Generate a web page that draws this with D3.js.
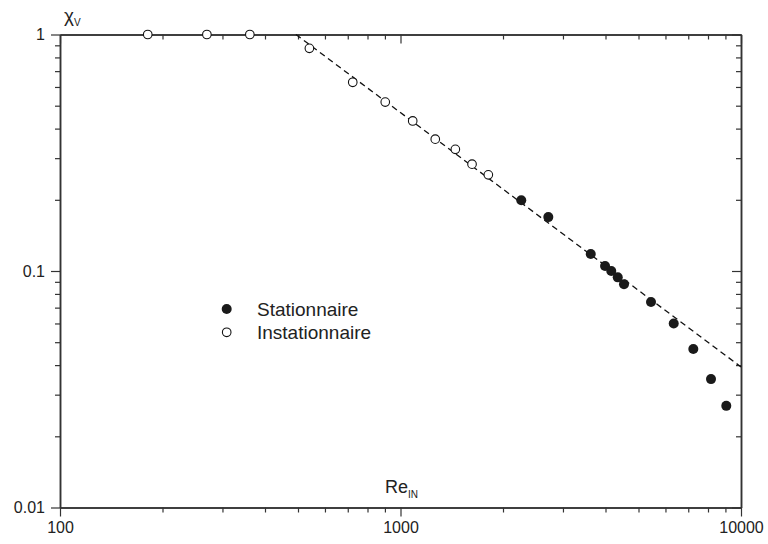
<!DOCTYPE html>
<html><head><meta charset="utf-8">
<script src="https://cdn.jsdelivr.net/npm/d3@7"></script>
<style>
body{margin:0;background:#fff;}
text{font-family:"Liberation Sans",Arial,Helvetica,sans-serif;fill:#222;}
</style></head>
<body><svg id="c" width="768" height="544"></svg>
<script>
// Data
const instX = [181, 270, 361, 540, 724, 902, 1086, 1265, 1449, 1622, 1811];
const instY = [1, 1, 1, 0.874, 0.628, 0.518, 0.431, 0.361, 0.327, 0.283, 0.255];
const statX = [2263, 2717, 3620, 3988, 4159, 4345, 4533, 5441, 6345, 7243, 8165, 9053];
const statY = [0.199, 0.169, 0.118, 0.105, 0.100, 0.094, 0.088, 0.074, 0.060, 0.0468, 0.0349, 0.0269];
const fitX = [493, 10000];
const fitY = [1, 0.0393];
const xTicks = [100, 1000, 10000];
const xTickLabels = ["100", "1000", "10000"];
const yTicks = [0.01, 0.1, 1];
const yTickLabels = ["0.01", "0.1", "1"];
const legendLabels = ["Stationnaire", "Instationnaire"];

const svg = d3.select("#c");
const L = 60, R = 741, T = 34.5, B = 507.5;
const x = d3.scaleLog().domain([100, 10000]).range([L, R]);
const y = d3.scaleLog().domain([0.01, 1]).range([B, T]);

const xMinor = [], yMinor = [];
[100, 1000].forEach(d => { for (let k = 2; k <= 9; k++) xMinor.push(d * k); });
[0.01, 0.1].forEach(d => { for (let k = 2; k <= 9; k++) yMinor.push(d * k); });

const axColor = "#333";
function style(g) {
  g.select(".domain").attr("stroke", axColor).attr("stroke-width", 1.5);
  g.selectAll(".tick line").attr("stroke", axColor).attr("stroke-width", 1.2);
  g.selectAll(".tick text").attr("fill", "#222").style("font-size", "16px")
   .style("font-family", '"Liberation Sans",Arial,sans-serif');
}
// bottom
svg.append("g").attr("transform", `translate(0,${B})`)
  .call(d3.axisBottom(x).tickValues(xMinor).tickSize(5).tickSizeOuter(0).tickFormat("")).call(style);
svg.append("g").attr("transform", `translate(0,${B})`)
  .call(d3.axisBottom(x).tickValues(xTicks).tickSize(9).tickSizeOuter(0).tickPadding(5)
    .tickFormat((d, i) => xTickLabels[i])).call(style);
// top
svg.append("g").attr("transform", `translate(0,${T})`)
  .call(d3.axisTop(x).tickValues(xMinor).tickSize(-5).tickSizeOuter(0).tickFormat("")).call(style);
svg.append("g").attr("transform", `translate(0,${T})`)
  .call(d3.axisTop(x).tickValues(xTicks).tickSize(-9).tickSizeOuter(0).tickFormat("")).call(style);
// left
svg.append("g").attr("transform", `translate(${L},0)`)
  .call(d3.axisLeft(y).tickValues(yMinor).tickSize(5).tickSizeOuter(0).tickFormat("")).call(style);
svg.append("g").attr("transform", `translate(${L},0)`)
  .call(d3.axisLeft(y).tickValues(yTicks).tickSize(9).tickSizeOuter(0).tickPadding(6)
    .tickFormat((d, i) => yTickLabels[i])).call(style);
// right
svg.append("g").attr("transform", `translate(${R},0)`)
  .call(d3.axisRight(y).tickValues(yMinor).tickSize(-5).tickSizeOuter(0).tickFormat("")).call(style);
svg.append("g").attr("transform", `translate(${R},0)`)
  .call(d3.axisRight(y).tickValues(yTicks).tickSize(-9).tickSizeOuter(0).tickFormat("")).call(style);

// fit line
svg.append("path")
  .datum(fitX.map((d, i) => [d, fitY[i]]))
  .attr("d", d3.line().x(d => x(d[0])).y(d => y(d[1])))
  .attr("fill", "none").attr("stroke", "#111").attr("stroke-width", 1.3)
  .attr("stroke-dasharray", "6,4");

// points
svg.append("g").selectAll("circle").data(instX.map((d, i) => [d, instY[i]])).join("circle")
  .attr("cx", d => x(d[0])).attr("cy", d => y(d[1])).attr("r", 4.3)
  .attr("fill", "#fff").attr("stroke", "#111").attr("stroke-width", 1.1);
svg.append("g").selectAll("circle").data(statX.map((d, i) => [d, statY[i]])).join("circle")
  .attr("cx", d => x(d[0])).attr("cy", d => y(d[1])).attr("r", 5)
  .attr("fill", "#1a1a1a");

// legend
const lg = svg.append("g");
lg.append("circle").attr("cx", 226.7).attr("cy", 309).attr("r", 5).attr("fill", "#1a1a1a");
lg.append("circle").attr("cx", 226.7).attr("cy", 332.3).attr("r", 4.3).attr("fill", "#fff")
  .attr("stroke", "#111").attr("stroke-width", 1.1);
lg.append("text").attr("x", 257).attr("y", 315.5).style("font-size", "19px").text(legendLabels[0]);
lg.append("text").attr("x", 257).attr("y", 339).style("font-size", "19px").text(legendLabels[1]);

// axis titles
const yt = svg.append("text").attr("x", 64).attr("y", 22).style("font-size", "19px");
yt.append("tspan").text("χ");
yt.append("tspan").attr("dy", 4).style("font-size", "10px").text("V");
const xt = svg.append("text").attr("x", 385).attr("y", 493).style("font-size", "18px");
xt.append("tspan").text("Re");
xt.append("tspan").attr("dy", 5).style("font-size", "10px").text("IN");
</script></body></html>
